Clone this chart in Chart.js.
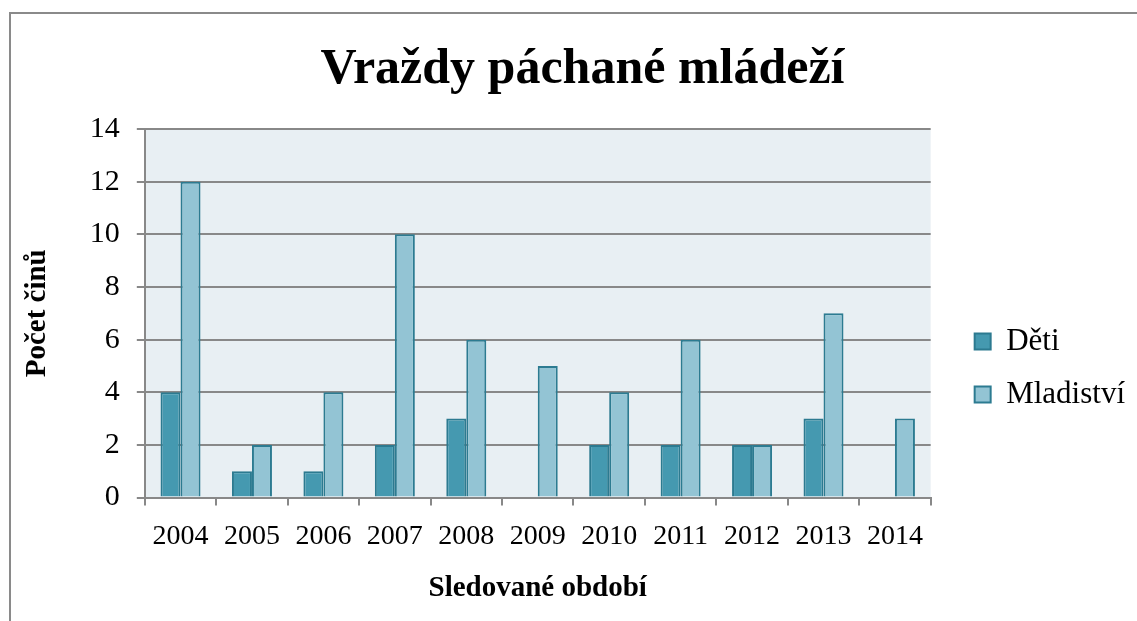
<!DOCTYPE html>
<html lang="cs">
<head>
<meta charset="utf-8">
<title>Vraždy páchané mládeží</title>
<script src="https://cdn.jsdelivr.net/npm/chart.js@4/dist/chart.umd.min.js"></script>
<style>
  html, body { margin: 0; padding: 0; background: #fff; overflow: hidden; }
  #wrap { position: relative; width: 1137px; height: 621px; }
  #frame {
    position: absolute; left: 9px; top: 12px; width: 2000px; height: 2000px;
    border-left: 2px solid #8a8a8a; border-top: 2px solid #8a8a8a;
  }
  canvas { position: absolute; left: 0; top: 0; }
</style>
</head>
<body>
<div id="wrap">
  <div id="frame"></div>
  <canvas id="chart" width="1137" height="621"></canvas>
</div>
<script>
const years = ["2004", "2005", "2006", "2007", "2008", "2009", "2010", "2011", "2012", "2013", "2014"];
const deti = [4, 1, 1, 2, 3, 0, 2, 2, 2, 3, 0];
const mladistvi = [12, 2, 4, 10, 6, 5, 4, 6, 2, 7, 3];
const yTicks = [0, 2, 4, 6, 8, 10, 12, 14];

const serif = "'Liberation Serif', 'Times New Roman', serif";
const gridGray = "#888888";

// plot area fill, like the Excel chart
const plotBg = {
  id: "plotBg",
  beforeDraw(chart) {
    const { ctx, chartArea: a } = chart;
    ctx.save();
    ctx.fillStyle = "#e8eff3";
    ctx.fillRect(a.left, a.top, a.right - a.left, a.bottom - a.top);
    ctx.restore();
  }
};

// move legend next to plot and recenter title over the whole picture
const nudge = {
  id: "nudge",
  afterLayout(chart) {
    const lg = chart.legend;
    const a = chart.chartArea;
    const dx = a.right + 22 - lg.left;
    lg.left += dx; lg.right += dx;
    const dy = (a.top + 175) - lg.top;
    lg.top += dy; lg.bottom += dy;
    const t = chart.titleBlock;
    t.left += 16; t.right += 16;
  }
};

new Chart(document.getElementById("chart"), {
  type: "bar",
  data: {
    labels: years,
    datasets: [
      {
        label: "Děti",
        data: deti,
        backgroundColor: "#4599b0",
        borderColor: "#2c7a90",
        borderWidth: 2
      },
      {
        label: "Mladiství",
        data: mladistvi,
        backgroundColor: "#93c4d4",
        borderColor: "#2c7b91",
        borderWidth: 2
      }
    ]
  },
  options: {
    responsive: false,
    animation: false,
    layout: { padding: { left: 20, top: 0, right: 24, bottom: 10 } },
    datasets: { bar: { categoryPercentage: 0.56, barPercentage: 1 } },
    plugins: {
      title: {
        display: true,
        text: "Vraždy páchané mládeží",
        color: "#000",
        font: { family: serif, size: 50, weight: "bold" },
        padding: { top: 40, bottom: 29 }
      },
      legend: {
        display: true,
        position: "right",
        align: "start",
        labels: {
          color: "#000",
          font: { family: serif, size: 31 },
          boxWidth: 16,
          boxHeight: 16,
          padding: 22
        }
      },
      tooltip: { enabled: false }
    },
    scales: {
      x: {
        grid: {
          offset: true,
          drawOnChartArea: false,
          color: gridGray,
          lineWidth: 2,
          tickLength: 8
        },
        border: { display: true, color: gridGray, width: 2 },
        ticks: {
          color: "#000",
          font: { family: serif, size: 28 },
          padding: 14,
          maxRotation: 0
        },
        title: {
          display: true,
          text: "Sledované období",
          color: "#000",
          font: { family: serif, size: 29, weight: "bold" },
          padding: { top: 4, bottom: 5 }
        }
      },
      y: {
        min: 0,
        max: 14,
        afterBuildTicks(scale) {
          scale.ticks = yTicks.map((v) => ({ value: v }));
        },
        grid: {
          color: gridGray,
          lineWidth: 2,
          tickLength: 8
        },
        border: { display: true, color: gridGray, width: 2 },
        ticks: {
          color: "#000",
          font: { family: serif, size: 30 },
          padding: 17
        },
        title: {
          display: true,
          text: "Počet činů",
          color: "#000",
          font: { family: serif, size: 29, weight: "bold" },
          padding: { top: 0, bottom: 18 }
        }
      }
    }
  },
  plugins: [plotBg, nudge]
});
</script>
</body>
</html>
